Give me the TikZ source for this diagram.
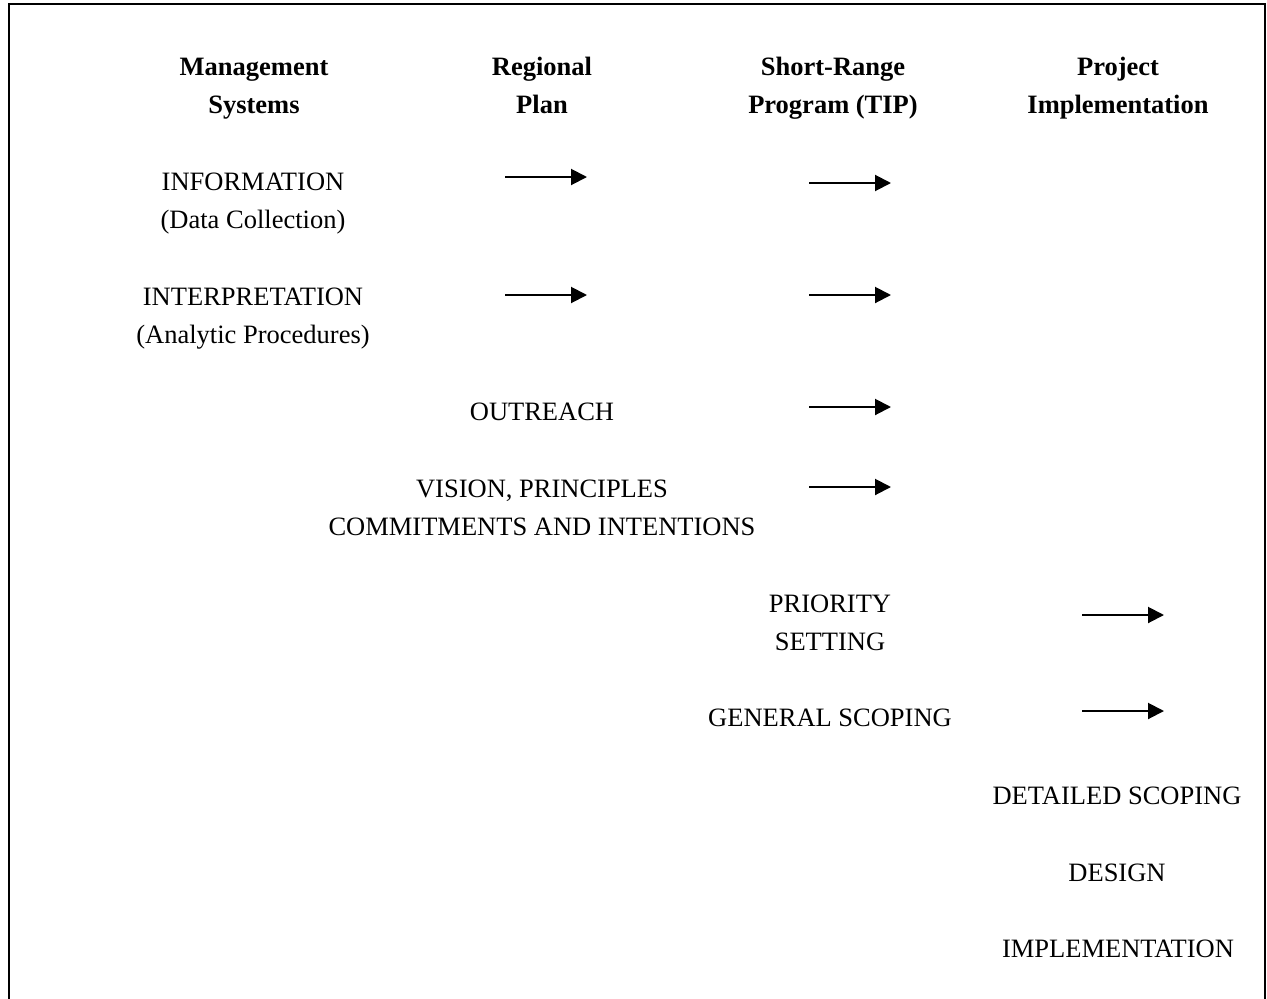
\documentclass[tikz,border=0pt]{standalone}
\usepackage{fontspec}
\setmainfont{Liberation Serif}
\usetikzlibrary{arrows.meta}
\tikzset{
  lbl/.style={anchor=base, inner sep=0pt, font=\fontsize{26.5}{38}\selectfont},
  hdr/.style={lbl, font=\fontsize{26.5}{38}\selectfont\bfseries},
  flow/.style={line width=2pt, -{Triangle[length=16pt,width=16pt]}},
  frame/.style={line width=2pt}
}
\begin{document}
\begin{tikzpicture}[x=1pt,y=-1pt]
\useasboundingbox (0,0) rectangle (1267,999);
\coordinate (fbl) at (9,999);
\coordinate (ftl) at (9,4);
\coordinate (ftr) at (1265,4);
\coordinate (fbr) at (1265,999);
\draw[frame] (fbl) -- (ftl) -- (ftr) -- (fbr);

% headers
\node[hdr] (h1a) at (254,75) {Management};
\node[hdr] (h1b) at (254,113) {Systems};
\node[hdr] (h2a) at (542,75) {Regional};
\node[hdr] (h2b) at (542,113) {Plan};
\node[hdr] (h3a) at (833,75) {Short-Range};
\node[hdr] (h3b) at (833,113) {Program (TIP)};
\node[hdr] (h4a) at (1118,75) {Project};
\node[hdr] (h4b) at (1118,113) {Implementation};

% column 1
\node[lbl] (infoa) at (253,190) {INFORMATION};
\node[lbl] (infob) at (253,228) {(Data Collection)};
\node[lbl] (intera) at (253,305) {INTERPRETATION};
\node[lbl] (interb) at (253,343) {(Analytic Procedures)};

% column 2
\node[lbl] (outreach) at (542,420) {OUTREACH};
\node[lbl] (visiona) at (542,497) {VISION, PRINCIPLES};
\node[lbl] (visionb) at (542,535) {COMMITMENTS AND INTENTIONS};

% column 3
\node[lbl] (prioa) at (830,612) {PRIORITY};
\node[lbl] (priob) at (830,650) {SETTING};
\node[lbl] (gensc) at (830,726) {GENERAL SCOPING};

% column 4
\node[lbl] (detsc) at (1117,804) {DETAILED SCOPING};
\node[lbl] (design) at (1117,881) {DESIGN};
\node[lbl] (impl) at (1118,957) {IMPLEMENTATION};

% arrows
\coordinate (a1s) at (505,177); \coordinate (a1e) at (587,177);
\coordinate (b1s) at (809,183); \coordinate (b1e) at (891,183);
\coordinate (a2s) at (505,295); \coordinate (a2e) at (587,295);
\coordinate (b2s) at (809,295); \coordinate (b2e) at (891,295);
\coordinate (b3s) at (809,407); \coordinate (b3e) at (891,407);
\coordinate (b4s) at (809,487); \coordinate (b4e) at (891,487);
\coordinate (c5s) at (1082,615); \coordinate (c5e) at (1164,615);
\coordinate (c6s) at (1082,711); \coordinate (c6e) at (1164,711);
\draw[flow] (a1s) -- (a1e);
\draw[flow] (b1s) -- (b1e);
\draw[flow] (a2s) -- (a2e);
\draw[flow] (b2s) -- (b2e);
\draw[flow] (b3s) -- (b3e);
\draw[flow] (b4s) -- (b4e);
\draw[flow] (c5s) -- (c5e);
\draw[flow] (c6s) -- (c6e);
\end{tikzpicture}
\end{document}
